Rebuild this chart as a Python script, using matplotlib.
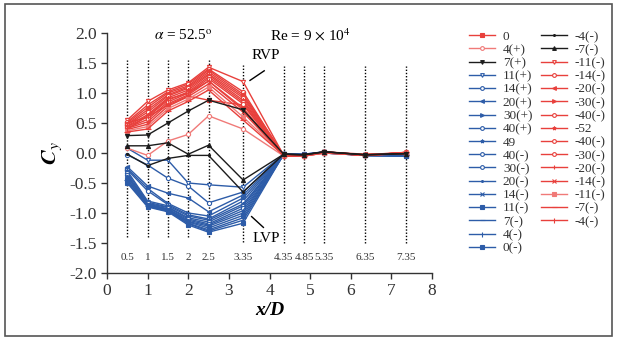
import matplotlib
matplotlib.use("Agg")
import matplotlib.pyplot as plt
from matplotlib.lines import Line2D
from matplotlib.patches import Rectangle

plt.rcParams["font.family"] = ["Liberation Serif", "DejaVu Serif"]
plt.rcParams["mathtext.fontset"] = "stix"
plt.rcParams["axes.unicode_minus"] = False

RED = "#e8403c"
PINK = "#f07a78"
BLUE = "#2d5ca8"
BLACK = "#1c1c1c"

# measuring stations x/D
stations = [0.5, 1, 1.5, 2, 2.5, 3.35, 4.35, 4.85, 5.35, 6.35, 7.35]
station_labels = ["0.5", "1", "1.5", "2", "2.5", "3.35", "4.35", "4.85", "5.35", "6.35", "7.35"]

# first legend column
col1_labels = ["0", "4(+)", "7(+)", "11(+)", "14(+)", "20(+)", "30(+)", "40(+)", "49",
               "40(-)", "30(-)", "20(-)", "14(-)", "11(-)", "7(-)", "4(-)", "0(-)"]
col1_values = [
    [0.50, 0.60, 0.80, 0.95, 0.88, 0.80, -0.04, -0.04, 0.01, -0.03, -0.01],
    [0.08, -0.04, 0.20, 0.31, 0.62, 0.40, -0.05, -0.05, 0.00, -0.04, 0.00],
    [0.29, 0.30, 0.50, 0.70, 0.88, 0.72, -0.02, -0.03, 0.02, -0.03, -0.01],
    [0.08, -0.12, -0.12, -0.50, -0.53, -0.57, -0.02, -0.03, 0.01, -0.04, -0.04],
    [-0.03, -0.20, -0.42, -0.55, -0.83, -0.65, -0.02, -0.02, 0.01, -0.04, -0.04],
    [-0.23, -0.55, -0.67, -0.75, -0.98, -0.70, -0.03, -0.03, 0.00, -0.04, -0.05],
    [-0.26, -0.59, -0.84, -1.00, -1.05, -0.75, -0.02, -0.03, 0.01, -0.04, -0.04],
    [-0.28, -0.63, -0.86, -1.03, -1.10, -0.80, -0.02, -0.02, 0.02, -0.03, -0.04],
    [-0.30, -0.80, -0.88, -1.05, -1.12, -0.85, -0.03, -0.03, 0.01, -0.04, -0.05],
    [-0.33, -0.82, -0.90, -1.08, -1.15, -0.88, -0.02, -0.03, 0.01, -0.04, -0.04],
    [-0.36, -0.84, -0.91, -1.10, -1.18, -0.92, -0.02, -0.02, 0.00, -0.04, -0.04],
    [-0.38, -0.85, -0.93, -1.12, -1.20, -0.96, -0.03, -0.03, 0.01, -0.03, -0.04],
    [-0.40, -0.86, -0.94, -1.14, -1.22, -1.00, -0.02, -0.03, 0.01, -0.04, -0.05],
    [-0.43, -0.87, -0.95, -1.15, -1.25, -1.04, -0.02, -0.02, 0.02, -0.04, -0.04],
    [-0.45, -0.88, -0.96, -1.17, -1.28, -1.08, -0.03, -0.03, 0.01, -0.04, -0.04],
    [-0.48, -0.89, -0.97, -1.18, -1.30, -1.12, -0.02, -0.03, 0.01, -0.04, -0.04],
    [-0.50, -0.90, -0.98, -1.20, -1.32, -1.17, -0.02, -0.03, 0.00, -0.04, -0.05],
]
col1_colors = [RED, PINK, BLACK] + [BLUE] * 14
col1_markers = [("s", True), ("o", False), ("v", True), ("v", False), ("o", False),
                ("<", True), (">", True), ("o", False), ("*", True), ("o", False),
                ("o", False), (".", True), ("x", True), ("s", True), ("_", True),
                ("|", True), ("s", True)]

# second legend column
col2_labels = ["-4(-)", "-7(-)", "-11(-)", "-14(-)", "-20(-)", "-30(-)", "-40(-)", "-52",
               "-40(-)", "-30(-)", "-20(-)", "-14(-)", "-11(-)", "-7(-)", "-4(-)"]
col2_values = [
    [-0.02, -0.21, -0.09, -0.04, -0.04, -0.65, -0.02, -0.03, 0.02, -0.03, -0.01],
    [0.12, 0.12, 0.17, -0.02, 0.13, -0.45, -0.02, -0.03, 0.02, -0.03, -0.01],
    [0.55, 0.86, 1.05, 1.17, 1.43, 1.19, -0.04, -0.05, 0.01, -0.03, 0.00],
    [0.52, 0.80, 1.02, 1.15, 1.40, 1.02, -0.05, -0.04, 0.02, -0.04, 0.01],
    [0.50, 0.76, 1.00, 1.12, 1.38, 0.98, -0.03, -0.05, 0.00, -0.02, -0.01],
    [0.48, 0.72, 0.97, 1.10, 1.35, 0.95, -0.04, -0.04, 0.01, -0.03, 0.00],
    [0.47, 0.68, 0.95, 1.08, 1.32, 0.92, -0.05, -0.05, 0.02, -0.04, 0.01],
    [0.45, 0.64, 0.92, 1.05, 1.30, 0.88, -0.04, -0.04, 0.01, -0.03, -0.01],
    [0.44, 0.60, 0.88, 1.02, 1.27, 0.85, -0.03, -0.05, 0.00, -0.04, 0.00],
    [0.42, 0.56, 0.85, 1.00, 1.24, 0.82, -0.04, -0.04, 0.01, -0.03, 0.01],
    [0.41, 0.52, 0.82, 0.97, 1.20, 0.75, -0.05, -0.05, 0.02, -0.02, 0.00],
    [0.39, 0.48, 0.78, 0.94, 1.15, 0.68, -0.04, -0.04, 0.01, -0.04, -0.01],
    [0.37, 0.44, 0.74, 0.90, 1.10, 0.60, -0.03, -0.05, 0.00, -0.03, 0.00],
    [0.35, 0.40, 0.70, 0.86, 1.05, 0.55, -0.04, -0.04, 0.01, -0.04, 0.01],
    [0.40, 0.62, 0.90, 1.00, 1.20, 0.72, -0.05, -0.05, 0.01, -0.03, 0.00],
]
col2_colors = [BLACK, BLACK] + [RED] * 10 + [PINK, RED, RED]
col2_markers = [(".", True), ("^", True), ("v", False), ("o", False), ("<", True),
                (">", True), ("o", False), ("*", True), ("o", False), ("o", False),
                ("+", True), ("x", True), ("s", True), ("_", True), ("|", True)]

fig = plt.figure(figsize=(6.17, 3.39), dpi=100)
ax = fig.add_axes([107 / 617, 1 - 273 / 339, 325 / 617, 240 / 339])

# outer frame
fig.patches.append(Rectangle((5 / 617, 3 / 339), 607 / 617, 332 / 339, transform=fig.transFigure,
                             fill=False, edgecolor="#555555", linewidth=1.2))

# dotted station lines
tops = [1.55, 1.55, 1.55, 1.55, 1.55, 1.47, 1.45, 1.45, 1.45, 1.45, 1.45]
bottoms = [-1.40, -1.40, -1.40, -1.40, -1.40, -1.48, -1.50, -1.50, -1.50, -1.50, -1.50]
ax.vlines(stations, bottoms, tops, colors="k", linestyles=(0, (1, 1.3)), linewidth=1.0, zorder=1)
for xs, lab in zip(stations, station_labels):
    ax.text(xs, -1.75, lab, ha="center", va="center", fontsize=8, color="#333333")


def draw(label, vals, color, mk, zo):
    m, filled = mk
    ms = 3.0
    if m in ("_", "|"):
        ms = 4
    return ax.plot(stations, vals, color=color, lw=1.0, marker=m, ms=ms,
                   mfc=color if filled else "white", mec=color, mew=0.8,
                   label=label, zorder=zo)[0]


handles = {}
for i, (lab, vals, c, mk) in enumerate(zip(col1_labels, col1_values, col1_colors, col1_markers)):
    zo = 4 if c == BLACK else (3 if c in (RED, PINK) else 2)
    handles[("a", i)] = draw(lab, vals, c, mk, zo)
for i, (lab, vals, c, mk) in enumerate(zip(col2_labels, col2_values, col2_colors, col2_markers)):
    zo = 4 if c == BLACK else (3 if c in (RED, PINK) else 2)
    handles[("b", i)] = draw(lab, vals, c, mk, zo)

leg_handles = [handles[("a", i)] for i in range(len(col1_labels))] + \
              [handles[("b", i)] for i in range(len(col2_labels))] + \
              [Line2D([], [], linestyle="none")]
leg_labels = col1_labels + col2_labels + [""]
fig.legend(leg_handles, leg_labels, loc="upper left", bbox_to_anchor=(462 / 617, 1 - 24 / 339),
           ncol=2, frameon=False, fontsize=9.5, handlelength=2.0, handletextpad=0.6,
           labelspacing=0.075, columnspacing=0.6, borderpad=0, labelcolor="#333333",
           markerscale=0.9)

ax.set_xlim(0, 8)
ax.set_ylim(-2, 2)
ax.set_xticks(range(0, 9))
ax.set_yticks([-2, -1.5, -1, -0.5, 0, 0.5, 1, 1.5, 2])
ax.set_yticklabels(["-2.0", "-1.5", "-1.0", "-0.5", "0.0", "0.5", "1.0", "1.5", "2.0"])
ax.tick_params(direction="out", length=4, width=1, labelsize=12.5, colors="#333333")
for s in ("top", "right"):
    ax.spines[s].set_visible(False)
for s in ("left", "bottom"):
    ax.spines[s].set_color("#333333")
    ax.spines[s].set_linewidth(1.0)

ax.set_xlabel("x/D", fontsize=14, fontstyle="italic", fontweight="bold", labelpad=2)
ax.set_ylabel(r"$\mathbfit{C}_{y}$", fontsize=16, labelpad=4)

ax.text(1.87, 1.96, r"$\alpha$ = 52.5$^{\rm o}$", ha="center", va="center", fontsize=11)
ax.text(5.0, 1.96, r"Re = 9 $\times$ 10$^{4}$", ha="center", va="center", fontsize=11)
ax.text(3.92, 1.62, "RVP", ha="center", va="center", fontsize=11)
ax.plot([3.87, 3.52], [1.37, 1.21], color="k", lw=1)
ax.text(3.92, -1.42, "LVP", ha="center", va="center", fontsize=11)
ax.plot([3.56, 3.85], [-1.06, -1.24], color="k", lw=1)

fig.savefig("out.png", dpi=100)
